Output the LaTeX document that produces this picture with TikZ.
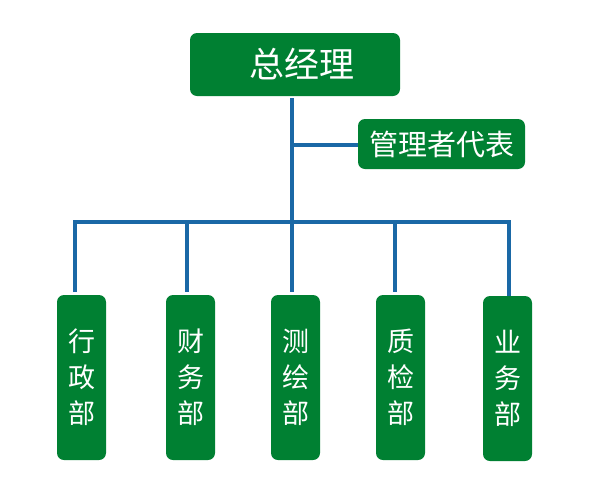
\documentclass[tikz,border=0pt]{standalone}
\usepackage{fontspec}
\newfontfamily\cjk{Noto Sans CJK SC}
\definecolor{boxgreen}{RGB}{0,128,50}
\definecolor{lineblue}{RGB}{26,104,166}
\begin{document}
\begin{tikzpicture}[x=1pt,y=-1pt,
  gbox/.style={fill=boxgreen,rounded corners=7pt,text=white,inner sep=0pt,font=\cjk},
  dept/.style={gbox,minimum width=49pt,minimum height=165pt,font=\cjk\fontsize{27}{36}\selectfont,align=center},
  conn/.style={draw=lineblue,line width=3.2pt}]
\useasboundingbox (0,0) rectangle (595,501);
\node[gbox,minimum width=210pt,minimum height=63pt,font=\cjk\fontsize{35}{40}\selectfont] (gm) at (295,64.5) {\hspace{14pt}总经理};
\node[gbox,minimum width=167pt,minimum height=50pt,font=\cjk\fontsize{29}{32}\selectfont] (rep) at (441.5,144) {管理者代表};
\node[dept] (d1) at (81.5,377.5) {行\\政\\部};
\node[dept] (d2) at (190.5,377.5) {财\\务\\部};
\node[dept] (d3) at (295.5,377.5) {测\\绘\\部};
\node[dept] (d4) at (400.5,377.5) {质\\检\\部};
\node[dept] (d5) at (507.5,378.5) {业\\务\\部};
\coordinate (bus) at (292,222);
\coordinate (j) at (292,145);
\draw[conn] (292,98) -- (bus);
\draw[conn] (j) -- (j -| rep.west);
\draw[conn] (75,292) |- (bus) -| (509,296);
\draw[conn] (187,222) -- (187,292);
\draw[conn] (292,222) -- (292,292);
\draw[conn] (395,222) -- (395,292);
\end{tikzpicture}
\end{document}
